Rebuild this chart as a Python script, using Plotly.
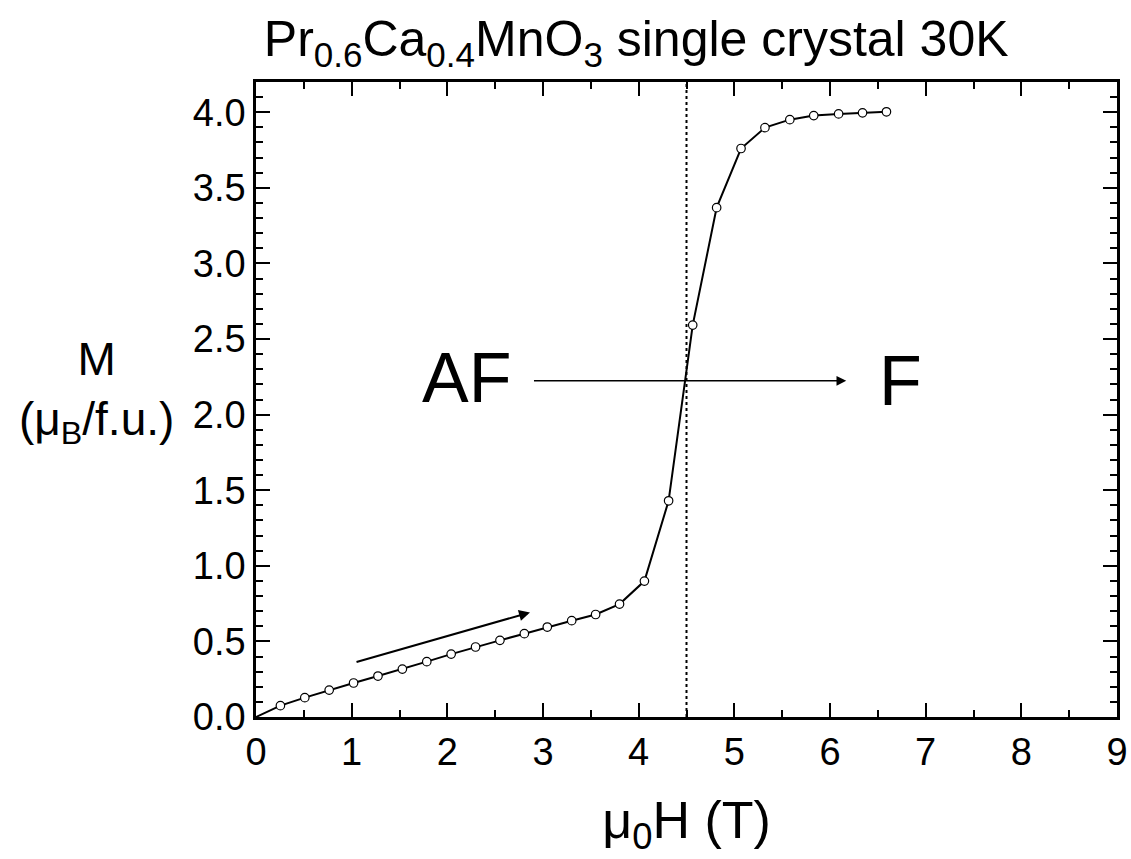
import plotly.graph_objects as go

# Data
field_T = [0, 0.255, 0.51, 0.765, 1.02, 1.275, 1.53, 1.785, 2.04, 2.295, 2.55, 2.805, 3.045,
           3.30, 3.55, 3.80, 4.06, 4.313, 4.565, 4.815, 5.07, 5.32, 5.58, 5.83, 6.09, 6.34, 6.59]
moment_muB = [0, 0.075, 0.128, 0.178, 0.225, 0.271, 0.317, 0.366, 0.416, 0.463, 0.507, 0.551, 0.595,
              0.637, 0.678, 0.747, 0.899, 1.430, 2.592, 3.369, 3.76, 3.898, 3.951, 3.978, 3.989, 3.996, 4.003]
transition_field = 4.5
x_ticks = [0, 1, 2, 3, 4, 5, 6, 7, 8, 9]
y_ticks = [0.0, 0.5, 1.0, 1.5, 2.0, 2.5, 3.0, 3.5, 4.0]
x_range = [0, 9]
y_range = [0, 4.2]

FONT = "Liberation Sans, Arial, sans-serif"

fig = go.Figure()
fig.add_trace(go.Scatter(x=field_T, y=moment_muB, mode="lines",
                         line=dict(color="black", width=2), showlegend=False, cliponaxis=False))
fig.add_trace(go.Scatter(x=field_T[1:], y=moment_muB[1:], mode="markers",
                         marker=dict(symbol="circle", size=8.5, color="white",
                                     line=dict(color="black", width=1.2)),
                         showlegend=False))

fig.add_shape(type="line", x0=transition_field, x1=transition_field, y0=y_range[0], y1=y_range[1],
              xref="x", yref="y", line=dict(color="black", width=2, dash="dot"))

# Arrows
fig.add_annotation(x=6.17, y=2.224, ax=2.89, ay=2.224, xref="x", yref="y", axref="x", ayref="y",
                   showarrow=True, arrowhead=2, arrowsize=1.3, arrowwidth=1.5, arrowcolor="black", text="")
fig.add_annotation(x=2.864, y=0.692, ax=1.035, ay=0.361, xref="x", yref="y", axref="x", ayref="y",
                   showarrow=True, arrowhead=2, arrowsize=1.1, arrowwidth=2, arrowcolor="black", text="")

fig.add_annotation(x=2.205, y=2.24, xref="x", yref="y", text="AF", showarrow=False,
                   font=dict(family=FONT, size=70, color="black"))
fig.add_annotation(x=6.74, y=2.22, xref="x", yref="y", text="F", showarrow=False,
                   font=dict(family=FONT, size=70, color="black"))

# Y axis title (horizontal, two lines)
fig.add_annotation(x=-0.185, y=0.512, xref="paper", yref="paper", xanchor="center", yanchor="middle",
                   text="M<br>(μ<sub>B</sub>/f.u.)",
                   showarrow=False, font=dict(family=FONT, size=46, color="black"))

axis_common = dict(showline=True, linewidth=2.5, linecolor="black", mirror="allticks",
                   ticks="inside", ticklen=14, tickwidth=2, tickcolor="black",
                   showgrid=False, zeroline=False, automargin=False,
                   tickfont=dict(family=FONT, size=38, color="black"))

fig.update_xaxes(range=x_range, tickvals=x_ticks, ticktext=[str(v) for v in x_ticks],
                 minor=dict(dtick=0.5, ticks="inside", ticklen=7, tickwidth=2, tickcolor="black", showgrid=False),
                 title=dict(text="μ<sub>0</sub>H (T)", font=dict(family=FONT, size=52, color="black"), standoff=30),
                 **axis_common)
fig.update_yaxes(range=y_range, tickvals=y_ticks, ticktext=[f"{v:.1f}" for v in y_ticks],
                 minor=dict(dtick=0.1, tick0=0, ticks="inside", ticklen=7, tickwidth=2, tickcolor="black", showgrid=False),
                 **axis_common)

fig.update_layout(
    width=1131, height=859,
    margin=dict(l=256, r=14, t=82, b=142),
    paper_bgcolor="white", plot_bgcolor="white",
    title=dict(text="Pr<sub>0.6</sub>Ca<sub>0.4</sub>MnO<sub>3</sub> single crystal 30K",
               x=0.5625, xanchor="center", y=0.955, yanchor="middle",
               font=dict(family=FONT, size=50, color="black")),
)

fig.write_html("out.html")
